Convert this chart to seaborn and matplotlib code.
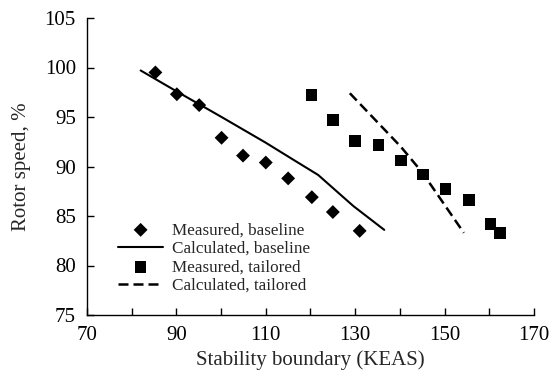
import matplotlib
matplotlib.use("Agg")
import matplotlib.pyplot as plt
import seaborn as sns
import pandas as pd

# Data
meas_base_x = [85.3, 90.1, 95.1, 100.1, 104.9, 110.0, 115.0, 120.3, 125.0, 131.0]
meas_base_y = [99.5, 97.3, 96.2, 92.9, 91.1, 90.4, 88.8, 86.9, 85.4, 83.5]
calc_base_x = [82.0, 90.0, 100.1, 110.0, 116.1, 121.7, 129.6, 136.5]
calc_base_y = [99.7, 97.6, 95.0, 92.4, 90.7, 89.15, 86.0, 83.6]
meas_tail_x = [120.2, 125.1, 130.0, 135.2, 140.2, 145.2, 150.2, 155.5, 160.3, 162.4]
meas_tail_y = [97.2, 94.7, 92.6, 92.2, 90.6, 89.2, 87.7, 86.6, 84.2, 83.3]
calc_tail_x = [128.8, 140.2, 145.0, 154.3]
calc_tail_y = [97.4, 92.0, 89.4, 83.3]

xticks = [70, 80, 90, 100, 110, 120, 130, 140, 150, 160, 170]
xticklabels = ["70", "", "90", "", "110", "", "130", "", "150", "", "170"]
yticks = [75, 80, 85, 90, 95, 100, 105]

sns.set_theme(style="ticks")
plt.rcParams['font.family'] = ['Liberation Serif', 'DejaVu Serif']

fig, ax = plt.subplots(figsize=(5.5, 3.74), dpi=100)
fig.subplots_adjust(left=87/550, right=534/550, bottom=1-315/374, top=1-18/374)

sns.scatterplot(x=meas_base_x, y=meas_base_y, marker="D", s=50, color="black",
                edgecolor="none", ax=ax, label="Measured, baseline", zorder=3)
sns.lineplot(x=calc_base_x, y=calc_base_y, sort=False, color="black", lw=1.5,
             ax=ax, label="Calculated, baseline")
sns.scatterplot(x=meas_tail_x, y=meas_tail_y, marker="s", s=70, color="black",
                edgecolor="none", ax=ax, label="Measured, tailored", zorder=3)
sns.lineplot(x=calc_tail_x, y=calc_tail_y, sort=False, color="black", lw=1.8,
             ax=ax, label="Calculated, tailored", linestyle=(0, (4, 2)))

ax.set_xlim(70, 170)
ax.set_ylim(75, 105)
ax.set_xticks(xticks)
ax.set_xticklabels(xticklabels)
ax.set_yticks(yticks)
ax.tick_params(direction="in", length=5, width=1, labelsize=15, colors="black")
ax.tick_params(axis="x", pad=8)
ax.tick_params(axis="y", pad=8)
for s in ["top", "right"]:
    ax.spines[s].set_visible(False)
for s in ["left", "bottom"]:
    ax.spines[s].set_color("black")
    ax.spines[s].set_linewidth(1)

ax.set_xlabel("Stability boundary (KEAS)", fontsize=15, labelpad=4)
ax.set_ylabel("Rotor speed, %", fontsize=15, labelpad=10)

leg = ax.legend(loc="upper left", bbox_to_anchor=(0.055, 0.335), frameon=False,
                fontsize=12.3, handlelength=2.6, handletextpad=0.55,
                labelspacing=0.15, borderaxespad=0)

fig.savefig("out.png", dpi=100)
